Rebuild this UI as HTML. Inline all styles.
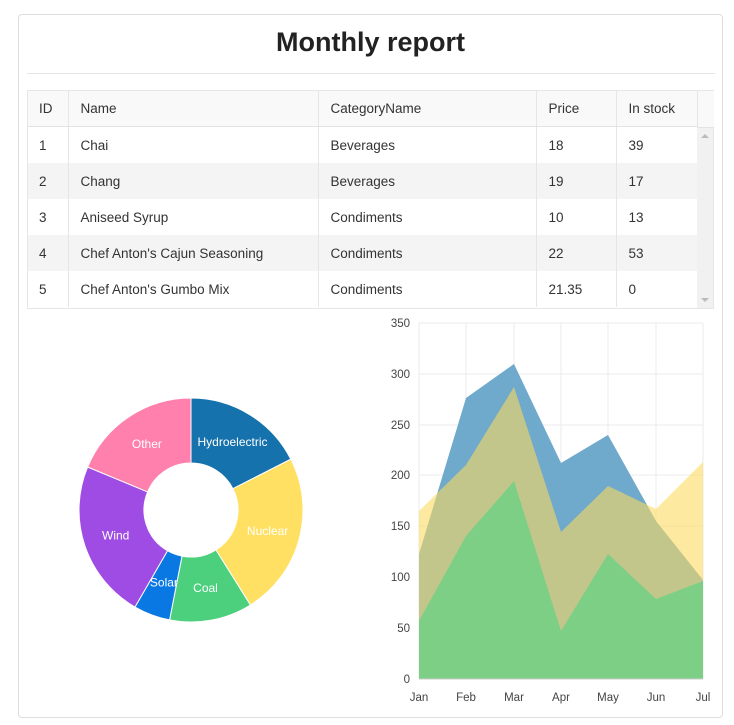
<!DOCTYPE html><html><head><style>
body{margin:0;background:#fff;font-family:"Liberation Sans",sans-serif;color:#333;}
.card{position:absolute;left:18px;top:14px;width:703px;height:702px;border:1px solid #ddd;border-radius:4px;}
h1{position:absolute;left:0;top:12px;width:703px;text-align:center;margin:0;font-size:27px;font-weight:bold;color:#222;}
.hr{position:absolute;left:8px;top:58px;width:688px;border-top:1px solid #e5e5e5;}
table{position:absolute;left:27px;top:90px;border-collapse:collapse;font-size:13.5px;color:#333;table-layout:fixed;width:670px;}
td{height:36px;padding:0 0 0 12px;border-left:1px solid #e6e6e6;white-space:nowrap;overflow:hidden;}
td:first-child{border-left:0}
tr.h td{background:#f9f9f9;height:36px;border-bottom:1px solid #e3e3e3;}
tr.g td{background:#f4f4f4;}
.tw{position:absolute;left:27px;top:90px;width:687px;height:219px;border:1px solid #e6e6e6;box-sizing:border-box;}
.sb{position:absolute;left:697px;top:128px;width:16px;height:180px;background:#f1f1f1;}
.hc{position:absolute;left:697px;top:91px;width:16px;height:36px;background:#f9f9f9;border-left:1px solid #e6e6e6;border-bottom:1px solid #e3e3e3;}
</style></head><body>
<div class="card"><h1>Monthly report</h1><div class="hr"></div></div>
<table>
<colgroup><col style="width:41px"><col style="width:250px"><col style="width:218px"><col style="width:80px"><col style="width:81px"></colgroup>
<tr class="h"><td>ID</td><td>Name</td><td>CategoryName</td><td>Price</td><td>In stock</td></tr>
<tr><td>1</td><td>Chai</td><td>Beverages</td><td>18</td><td>39</td></tr>
<tr class="g"><td>2</td><td>Chang</td><td>Beverages</td><td>19</td><td>17</td></tr>
<tr><td>3</td><td>Aniseed Syrup</td><td>Condiments</td><td>10</td><td>13</td></tr>
<tr class="g"><td>4</td><td>Chef Anton's Cajun Seasoning</td><td>Condiments</td><td>22</td><td>53</td></tr>
<tr><td>5</td><td>Chef Anton's Gumbo Mix</td><td>Condiments</td><td>21.35</td><td>0</td></tr>
</table>
<div class="tw"></div><div class="hc"></div><div class="sb"><div style="position:absolute;left:4px;top:6px;width:0;height:0;border:4px solid transparent;border-bottom-color:#bbb;border-top:0"></div><div style="position:absolute;left:4px;bottom:6px;width:0;height:0;border:4px solid transparent;border-top-color:#bbb;border-bottom:0"></div></div>
<svg width="734" height="725" style="position:absolute;left:0;top:0" font-family="Liberation Sans, sans-serif">
<g id="pie"></g>
<g stroke="#ebebeb" stroke-width="1">
<line x1="419" y1="323" x2="703" y2="323"/><line x1="419" y1="374" x2="703" y2="374"/><line x1="419" y1="425" x2="703" y2="425"/><line x1="419" y1="475" x2="703" y2="475"/><line x1="419" y1="526" x2="703" y2="526"/><line x1="419" y1="577" x2="703" y2="577"/><line x1="419" y1="628" x2="703" y2="628"/>
<line x1="419" y1="323" x2="419" y2="679"/><line x1="466" y1="323" x2="466" y2="679"/><line x1="514" y1="323" x2="514" y2="679"/><line x1="561" y1="323" x2="561" y2="679"/><line x1="608" y1="323" x2="608" y2="679"/><line x1="656" y1="323" x2="656" y2="679"/><line x1="703" y1="323" x2="703" y2="679"/>
</g>
<polygon fill="#6fa9cb" points="419,679 419,554 466,398 514,364 561,463 608,435 656,521 703,580 703,679"/>
<polygon fill="#fcda5f" fill-opacity="0.6" points="419,679 419,511 466,465 514,387 561,532 608,486 656,509 703,462 703,679"/>
<polygon fill="#7ccf85" points="419,679 419,621 466,536 514,481 561,631 608,554 656,599 703,581 703,679"/>
<line x1="419" y1="679" x2="703" y2="679" stroke="#ccc"/>
<g font-size="11.5" fill="#444" text-anchor="end">
<text x="410" y="327">350</text><text x="410" y="378">300</text><text x="410" y="429">250</text><text x="410" y="479">200</text><text x="410" y="530">150</text><text x="410" y="581">100</text><text x="410" y="632">50</text><text x="410" y="683">0</text></g>
<g font-size="11.5" fill="#444" text-anchor="middle">
<text x="419" y="701">Jan</text><text x="466" y="701">Feb</text><text x="514" y="701">Mar</text><text x="561" y="701">Apr</text><text x="608" y="701">May</text><text x="656" y="701">Jun</text><text x="703" y="701">Jul</text></g>
</svg>
<script>
var cx=191,cy=510,R=112,r=47,s=[[0,63,"#1572ad","Hydroelectric"],[63,148,"#ffe062","Nuclear"],[148,191,"#4cd07d","Coal"],[191,210,"#0a78e3","Solar"],[210,292.6,"#9e4ce3","Wind"],[292.6,360,"#ff80ac","Other"]];
function p(a,rr){a=a*Math.PI/180;return[(cx+rr*Math.sin(a)).toFixed(1),(cy-rr*Math.cos(a)).toFixed(1)];}
var h="";s.forEach(function(q){var a=p(q[0],R),b=p(q[1],R),c=p(q[1],r),d=p(q[0],r),l=(q[1]-q[0])>180?1:0;
h+='<path fill="'+q[2]+'" stroke="#fff" stroke-width="1" d="M'+a+' A'+R+','+R+' 0 '+l+' 1 '+b+' L'+c+' A'+r+','+r+' 0 '+l+' 0 '+d+'Z"/>';
var m=p((q[0]+q[1])/2,(R+r)/2+(q[3]=="Solar"?-2:0));h+='<text x="'+m[0]+'" y="'+(+m[1]+4)+'" fill="#fff" font-size="12" text-anchor="middle">'+q[3]+'</text>';});
document.getElementById("pie").innerHTML=h;
</script>
</body></html>
